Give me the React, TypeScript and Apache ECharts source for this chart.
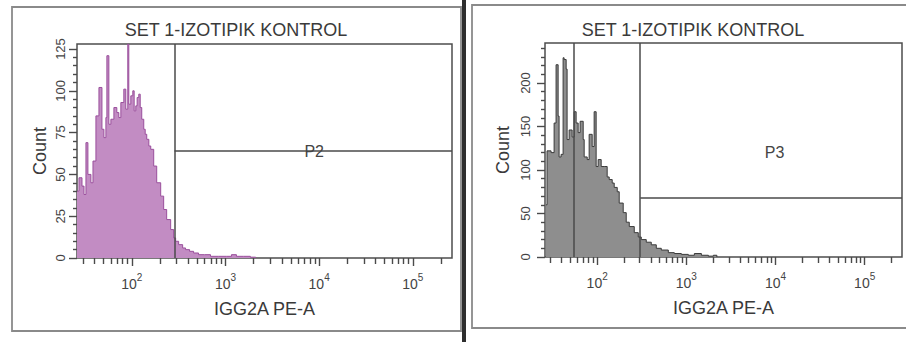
import React, { useEffect, useRef } from "react";
import * as echarts from "echarts";

const titleText = "SET 1-IZOTIPIK KONTROL";
const xAxisTitle = "IGG2A PE-A";
const yAxisTitle = "Count";

// Left panel (P2): histogram bin start intensity and event count
const leftIntensity = [26, 27.3, 29.4, 30.9, 32.4, 34, 36.6, 38.5, 41.4, 44.6, 48, 50.4, 52.9, 54.2, 56.9, 59.8, 64.4, 69.2, 72.7, 76.4, 82.2, 86.3, 90.6, 92.9, 97.6, 102.5, 106, 110.3, 114, 118.7, 123, 127.7, 134.2, 139, 144.4, 152, 159.3, 171.4, 184.5, 203.5, 218.9, 235.6, 260, 279.8, 293.8, 316.2, 349, 375, 414, 457, 516, 598, 692, 843, 1025, 1159, 1309, 1553, 1845, 2100];
const leftCount = [40, 48, 43, 38, 69, 50, 45, 58, 85, 102, 77, 72, 84, 121, 80, 83, 90, 87, 84, 93, 101, 89, 128, 92, 97, 100, 88, 91, 96, 98, 90, 83, 77, 74, 71, 67, 65, 55, 45, 37, 29, 23, 17, 12, 10, 8, 6, 5, 4, 3, 2, 2, 1, 1, 1, 2, 1, 1, 0.5, 0];

// Right panel (P3): histogram bin start intensity and event count
const rightIntensity = [26.7, 27.4, 30.4, 32.9, 34.6, 36.5, 37.4, 39.4, 41.5, 42.6, 44.9, 46, 48.5, 52.4, 55.2, 58.1, 61.2, 64.4, 69.7, 71.5, 77.3, 81.3, 87.9, 92.5, 97.4, 102.6, 110.9, 119.9, 129.5, 136.4, 147.5, 155.3, 167.9, 176.7, 195.9, 211.8, 229.1, 260.6, 289.1, 312.2, 355.3, 404.3, 460.2, 523.7, 628, 733, 879, 1052, 1230, 1475, 1766, 2010, 2200];
const rightCount = [60, 122, 120, 154, 221, 162, 115, 118, 229, 227, 216, 135, 146, 138, 167, 154, 143, 156, 135, 115, 112, 141, 127, 167, 104, 112, 104, 104, 92, 89, 85, 80, 75, 62, 51, 40, 35, 28, 23, 20, 17, 14, 10, 8, 5, 4, 3, 2, 4, 2, 1, 2, 0];

// Axis range (intensity) and ticks
const xRange = [26, 262144];
const xMajorTicks = [100, 1000, 10000, 100000];
const xMinorTicks = [30, 40, 50, 60, 70, 80, 90, 200, 300, 400, 500, 600, 700, 800, 900, 2000, 3000, 4000, 5000, 6000, 7000, 8000, 9000, 20000, 30000, 40000, 50000, 60000, 70000, 80000, 90000, 200000];
const leftYMax = 128;
const leftYMajor = [0, 25, 50, 75, 100, 125];
const leftYMinor = [5, 10, 15, 20, 30, 35, 40, 45, 55, 60, 65, 70, 80, 85, 90, 95, 105, 110, 115, 120];
const rightYMax = 246;
const rightYMajor = [0, 50, 100, 150, 200];
const rightYMinor = [10, 20, 30, 40, 60, 70, 80, 90, 110, 120, 130, 140, 160, 170, 180, 190, 210, 220, 230, 240];

// Gates
const leftGateName = "P2";
const leftGateStart = 286;
const leftGateLevel = 64;
const leftGateLabelAt = [8850, 64];
const rightGateName = "P3";
const rightMarker = 55;
const rightGateStart = 304;
const rightGateLevel = 68;
const rightGateLabelAt = [9750, 120];

const FONT = "'Liberation Sans', Arial, sans-serif";
const lg = (v: number) => Math.log10(v);

export default function App() {
  const ref = useRef<HTMLDivElement>(null);
  useEffect(() => {
    const chart = echarts.init(ref.current!, null, { renderer: "svg" });

    const grids = [
      { left: 77, top: 44, width: 375, height: 214 },
      { left: 545, top: 43, width: 357, height: 214 },
    ];
    const xAxes: any[] = [];
    const yAxes: any[] = [];
    const panels = [
      { yMax: leftYMax, yMajor: leftYMajor, yMinor: leftYMinor, labelMargin: 10, nameGap: 28 },
      { yMax: rightYMax, yMajor: rightYMajor, yMinor: rightYMinor, labelMargin: 13, nameGap: 33 },
    ];
    const tickLine = { color: "#4a4a4a", width: 1.4 };
    panels.forEach((p, idx) => {
      xAxes.push({
        gridIndex: idx,
        type: "value",
        min: lg(xRange[0]),
        max: lg(xRange[1]),
        position: "bottom",
        axisLine: { show: false, onZero: false },
        splitLine: { show: false },
        axisTick: { show: true, customValues: xMajorTicks.map(lg), length: 8, lineStyle: tickLine },
        axisLabel: {
          show: true,
          customValues: xMajorTicks.map(lg),
          margin: 14,
          formatter: (v: number) => `{b|10}{e|${Math.round(v)}}`,
          rich: {
            b: { fontSize: 14, color: "#444", fontFamily: FONT, verticalAlign: "bottom" },
            e: { fontSize: 10, color: "#444", fontFamily: FONT, verticalAlign: "top", padding: [0, 0, 9, 0] },
          },
        },
        name: xAxisTitle,
        nameLocation: "middle",
        nameGap: 42,
        nameTextStyle: { fontSize: 18, color: "#3a3a3a", fontFamily: FONT },
      });
      xAxes.push({
        gridIndex: idx,
        type: "value",
        min: lg(xRange[0]),
        max: lg(xRange[1]),
        position: "bottom",
        axisLine: { show: false, onZero: false },
        splitLine: { show: false },
        axisLabel: { show: false },
        axisTick: { show: true, customValues: xMinorTicks.map(lg), length: 6, lineStyle: tickLine },
      });
      yAxes.push({
        gridIndex: idx,
        type: "value",
        min: 0,
        max: p.yMax,
        position: "left",
        axisLine: { show: false, onZero: false },
        splitLine: { show: false },
        axisTick: { show: true, customValues: p.yMajor, length: 8, lineStyle: tickLine },
        axisLabel: {
          show: true,
          customValues: p.yMajor,
          rotate: 90,
          margin: p.labelMargin,
          fontSize: 13,
          color: "#444",
          fontFamily: FONT,
        },
        name: yAxisTitle,
        nameLocation: "middle",
        nameGap: p.nameGap,
        nameTextStyle: { fontSize: 18, color: "#3a3a3a", fontFamily: FONT },
      });
      yAxes.push({
        gridIndex: idx,
        type: "value",
        min: 0,
        max: p.yMax,
        position: "left",
        axisLine: { show: false, onZero: false },
        splitLine: { show: false },
        axisLabel: { show: false },
        axisTick: { show: true, customValues: p.yMinor, length: 4, lineStyle: tickLine },
      });
    });

    const gateLine = { color: "#4a4a4a", width: 1.5, type: "solid" };
    const labelPoint = (name: string, at: number[]) => ({
      coord: [lg(at[0]), at[1]],
      symbol: "circle",
      symbolSize: 1,
      itemStyle: { color: "rgba(0,0,0,0)" },
      label: { show: true, formatter: name, position: "inside", color: "#444", fontSize: 16, fontFamily: FONT },
    });

    const option: any = {
      animation: false,
      backgroundColor: "#fff",
      title: [
        { text: titleText, left: 236, top: 21, textAlign: "center", padding: 0, textStyle: { fontSize: 18, fontWeight: "normal", color: "#3a3a3a", fontFamily: FONT } },
        { text: titleText, left: 693, top: 21, textAlign: "center", padding: 0, textStyle: { fontSize: 18, fontWeight: "normal", color: "#3a3a3a", fontFamily: FONT } },
      ],
      grid: grids.map((g) => ({ ...g, show: true, borderColor: "#4d4d4d", borderWidth: 1.5, backgroundColor: "transparent" })),
      xAxis: xAxes,
      yAxis: yAxes,
      graphic: [
        { type: "rect", shape: { x: 12, y: 7, width: 449, height: 324 }, style: { fill: "none", stroke: "#8a8a8a", lineWidth: 1.8 }, z: -1 },
        { type: "rect", shape: { x: 472, y: 5, width: 442, height: 323 }, style: { fill: "none", stroke: "#8a8a8a", lineWidth: 1.8 }, z: -1 },
        { type: "rect", shape: { x: 462, y: 0, width: 4, height: 342 }, style: { fill: "#2e2e2e" } },
      ],
      series: [
        {
          type: "line",
          xAxisIndex: 0,
          yAxisIndex: 0,
          step: "end",
          symbol: "none",
          data: leftIntensity.map((v, i) => [lg(v), leftCount[i]]),
          lineStyle: { color: "#9a4f9c", width: 1 },
          areaStyle: { color: "#c28cc3", opacity: 1 },
          markLine: {
            silent: true,
            symbol: ["none", "none"],
            label: { show: false },
            lineStyle: gateLine,
            data: [
              { xAxis: lg(leftGateStart) },
              [{ coord: [lg(leftGateStart), leftGateLevel] }, { coord: [lg(xRange[1]), leftGateLevel] }],
            ],
          },
          markPoint: { silent: true, data: [labelPoint(leftGateName, leftGateLabelAt)] },
        },
        {
          type: "line",
          xAxisIndex: 2,
          yAxisIndex: 2,
          step: "end",
          symbol: "none",
          data: rightIntensity.map((v, i) => [lg(v), rightCount[i]]),
          lineStyle: { color: "#3a3a3a", width: 1 },
          areaStyle: { color: "#8e8e8e", opacity: 1 },
          markLine: {
            silent: true,
            symbol: ["none", "none"],
            label: { show: false },
            lineStyle: gateLine,
            data: [
              { xAxis: lg(rightMarker) },
              { xAxis: lg(rightGateStart) },
              [{ coord: [lg(rightGateStart), rightGateLevel] }, { coord: [lg(xRange[1]), rightGateLevel] }],
            ],
          },
          markPoint: { silent: true, data: [labelPoint(rightGateName, rightGateLabelAt)] },
        },
      ],
    };
    chart.setOption(option);
    return () => chart.dispose();
  }, []);
  return <div ref={ref} style={{ position: "absolute", left: 0, top: 0, width: 906, height: 342, background: "#fff" }} />;
}
